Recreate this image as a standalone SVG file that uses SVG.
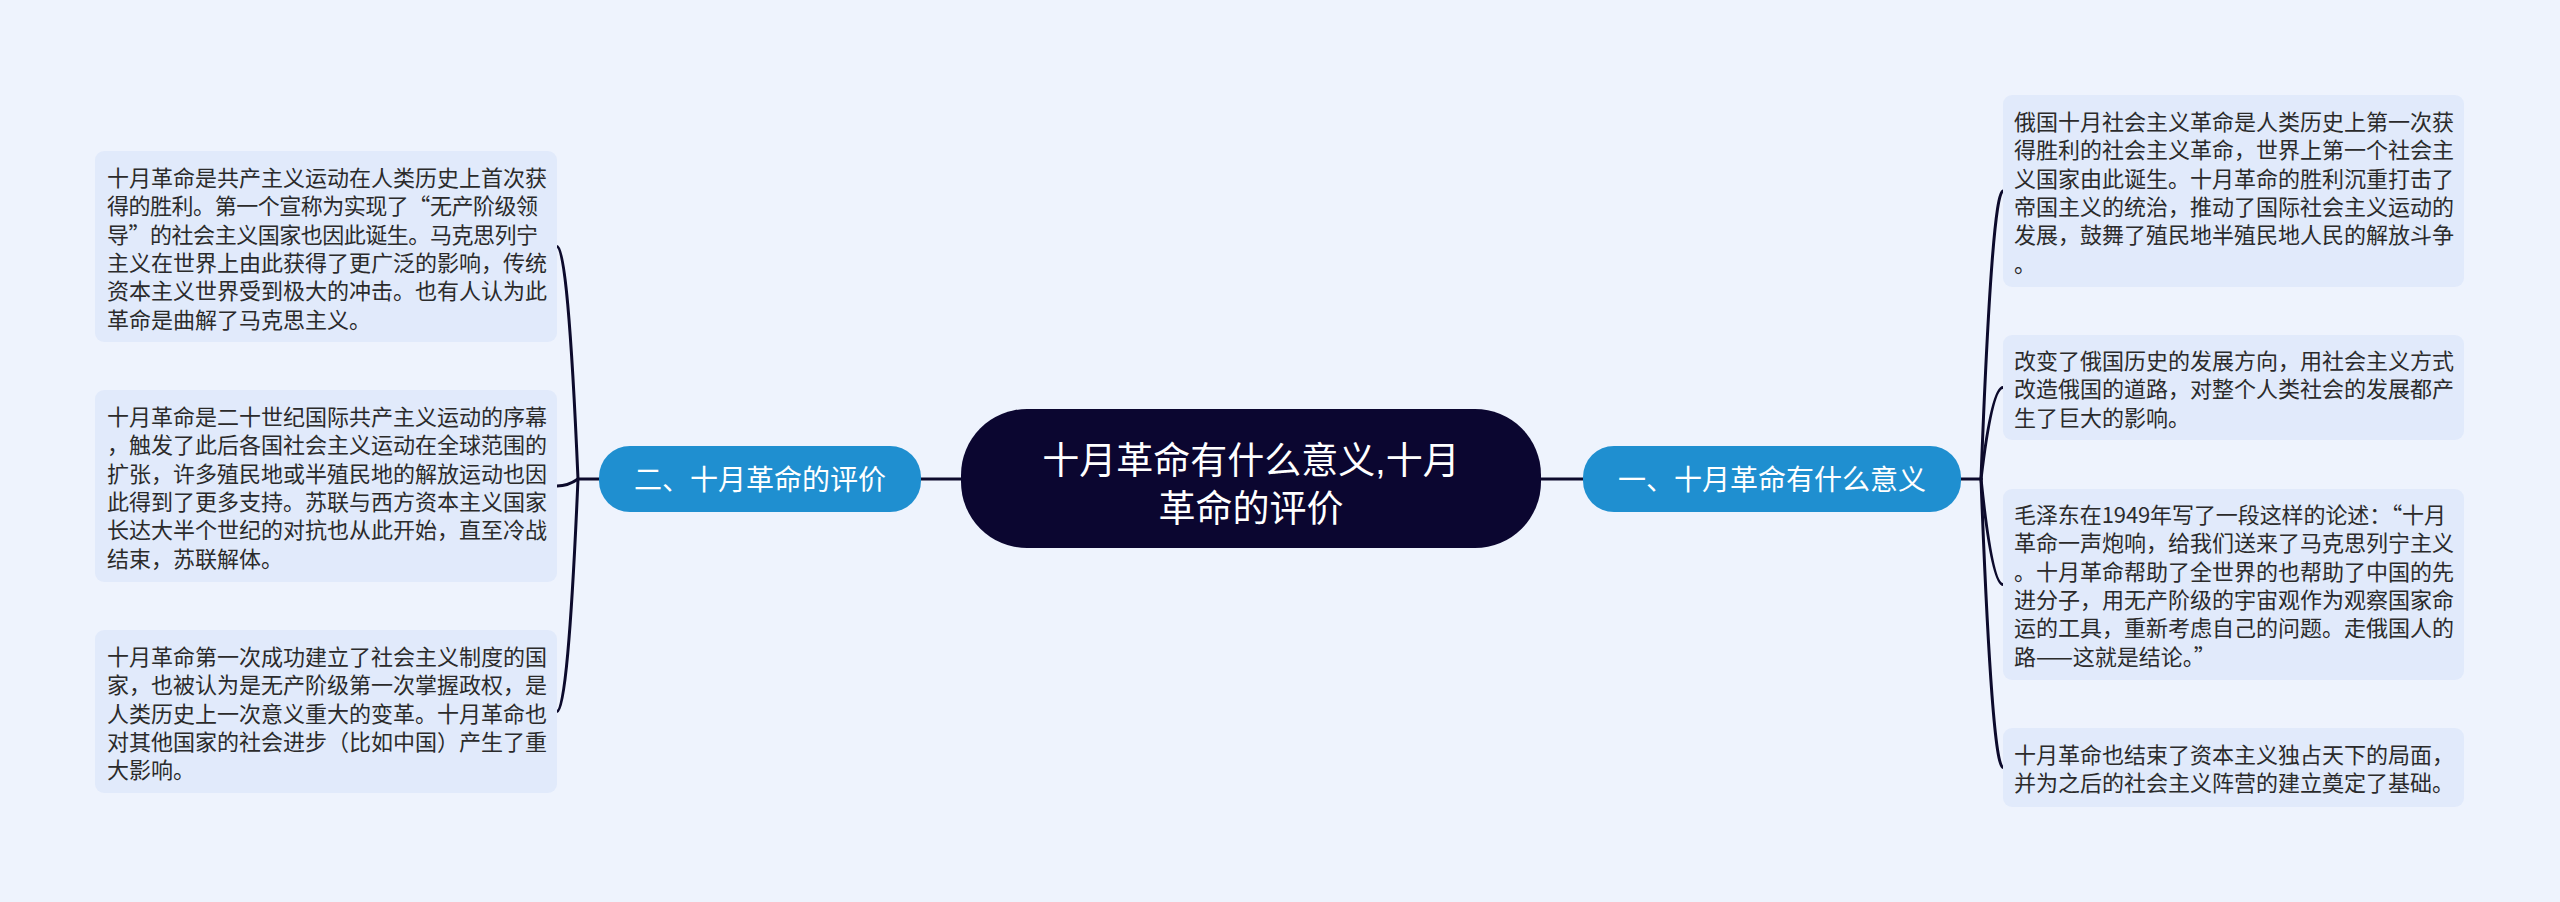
<svg xmlns="http://www.w3.org/2000/svg" width="2560" height="902" viewBox="0 0 2560 902">
<style>
.bg{fill:#eef3fd}
.leaf{fill:#e1eafb}
.lt{font-family:"Noto Sans CJK SC","Noto Sans",sans-serif;font-size:22px;fill:#2b2b2b}
.br{fill:#1f8fd0}
.bt{font-family:"Noto Sans CJK SC","Noto Sans",sans-serif;font-size:28px;fill:#ffffff;text-anchor:middle}
.ct{font-family:"Liberation Sans","Noto Sans CJK SC",sans-serif;font-size:37px;fill:#ffffff;text-anchor:middle}
.ln{fill:none;stroke:#0c0a2c;stroke-width:3;stroke-linecap:round}
</style>
<rect class="bg" x="0" y="0" width="2560" height="902"/>
<g id="connectors">
<path class="ln" d="M921,479 L961,479"/>
<path class="ln" d="M1541,479 L1583,479"/>
<path class="ln" d="M578,479 L599,479"/>
<path class="ln" d="M1961,479 L1981,479"/>
<path class="ln" d="M578,479 Q568,246.5 557,246.5"/>
<path class="ln" d="M578,479 Q568,486 557,486"/>
<path class="ln" d="M578,479 Q568,711.5 557,711.5"/>
<path class="ln" d="M1981,479 Q1992,191 2003,191"/>
<path class="ln" d="M1981,479 Q1992,387.5 2003,387.5"/>
<path class="ln" d="M1981,479 Q1992,584.5 2003,584.5"/>
<path class="ln" d="M1981,479 Q1992,767.5 2003,767.5"/>
</g>
<g id="center">
<rect x="961" y="409" width="580" height="139" rx="66" fill="#0b0630"/>
<text class="ct"><tspan x="1251" y="474">十月革命有什么意义,十月</tspan><tspan x="1251" y="522">革命的评价</tspan></text>
</g>
<g id="branch-left">
<rect class="br" x="599" y="446" width="322" height="66" rx="31"/>
<text class="bt" x="760" y="490">二、十月革命的评价</text>
</g>
<g id="branch-right">
<rect class="br" x="1583" y="446" width="378" height="66" rx="31"/>
<text class="bt" x="1772" y="490">一、十月革命有什么意义</text>
</g>
<g id="left-1">
<rect class="leaf" x="95" y="151" width="462" height="191" rx="9"/>
<text class="lt" x="107" y="186">十月革命是共产主义运动在人类历史上首次获</text>
<text class="lt" x="107" y="214.3" textLength="431" lengthAdjust="spacing">得的胜利。第一个宣称为实现了“无产阶级领</text>
<text class="lt" x="107" y="242.6" textLength="431" lengthAdjust="spacing">导”的社会主义国家也因此诞生。马克思列宁</text>
<text class="lt" x="107" y="270.9">主义在世界上由此获得了更广泛的影响，传统</text>
<text class="lt" x="107" y="299.2">资本主义世界受到极大的冲击。也有人认为此</text>
<text class="lt" x="107" y="327.5">革命是曲解了马克思主义。</text>
</g>
<g id="left-2">
<rect class="leaf" x="95" y="390" width="462" height="192" rx="9"/>
<text class="lt" x="107" y="425">十月革命是二十世纪国际共产主义运动的序幕</text>
<text class="lt" x="107" y="453.3">，触发了此后各国社会主义运动在全球范围的</text>
<text class="lt" x="107" y="481.6">扩张，许多殖民地或半殖民地的解放运动也因</text>
<text class="lt" x="107" y="509.9">此得到了更多支持。苏联与西方资本主义国家</text>
<text class="lt" x="107" y="538.2">长达大半个世纪的对抗也从此开始，直至冷战</text>
<text class="lt" x="107" y="566.5">结束，苏联解体。</text>
</g>
<g id="left-3">
<rect class="leaf" x="95" y="630" width="462" height="163" rx="9"/>
<text class="lt" x="107" y="665">十月革命第一次成功建立了社会主义制度的国</text>
<text class="lt" x="107" y="693.3">家，也被认为是无产阶级第一次掌握政权，是</text>
<text class="lt" x="107" y="721.6">人类历史上一次意义重大的变革。十月革命也</text>
<text class="lt" x="107" y="749.9">对其他国家的社会进步（比如中国）产生了重</text>
<text class="lt" x="107" y="778.2">大影响。</text>
</g>
<g id="right-1">
<rect class="leaf" x="2003" y="95" width="461" height="192" rx="9"/>
<text class="lt" x="2014" y="130">俄国十月社会主义革命是人类历史上第一次获</text>
<text class="lt" x="2014" y="158.3">得胜利的社会主义革命，世界上第一个社会主</text>
<text class="lt" x="2014" y="186.6">义国家由此诞生。十月革命的胜利沉重打击了</text>
<text class="lt" x="2014" y="214.9">帝国主义的统治，推动了国际社会主义运动的</text>
<text class="lt" x="2014" y="243.2">发展，鼓舞了殖民地半殖民地人民的解放斗争</text>
<text class="lt" x="2014" y="271.5">。</text>
</g>
<g id="right-2">
<rect class="leaf" x="2003" y="335" width="461" height="105" rx="9"/>
<text class="lt" x="2014" y="369">改变了俄国历史的发展方向，用社会主义方式</text>
<text class="lt" x="2014" y="397.3">改造俄国的道路，对整个人类社会的发展都产</text>
<text class="lt" x="2014" y="425.6">生了巨大的影响。</text>
</g>
<g id="right-3">
<rect class="leaf" x="2003" y="489" width="461" height="191" rx="9"/>
<text class="lt" x="2014" y="523" textLength="432" lengthAdjust="spacing">毛泽东在1949年写了一段这样的论述：“十月</text>
<text class="lt" x="2014" y="551.3">革命一声炮响，给我们送来了马克思列宁主义</text>
<text class="lt" x="2014" y="579.6">。十月革命帮助了全世界的也帮助了中国的先</text>
<text class="lt" x="2014" y="607.9">进分子，用无产阶级的宇宙观作为观察国家命</text>
<text class="lt" x="2014" y="636.2">运的工具，重新考虑自己的问题。走俄国人的</text>
<text class="lt" x="2014" y="664.5">路——这就是结论。”</text>
</g>
<g id="right-4">
<rect class="leaf" x="2003" y="728" width="461" height="79" rx="9"/>
<text class="lt" x="2014" y="763">十月革命也结束了资本主义独占天下的局面，</text>
<text class="lt" x="2014" y="791.3">并为之后的社会主义阵营的建立奠定了基础。</text>
</g>
</svg>
